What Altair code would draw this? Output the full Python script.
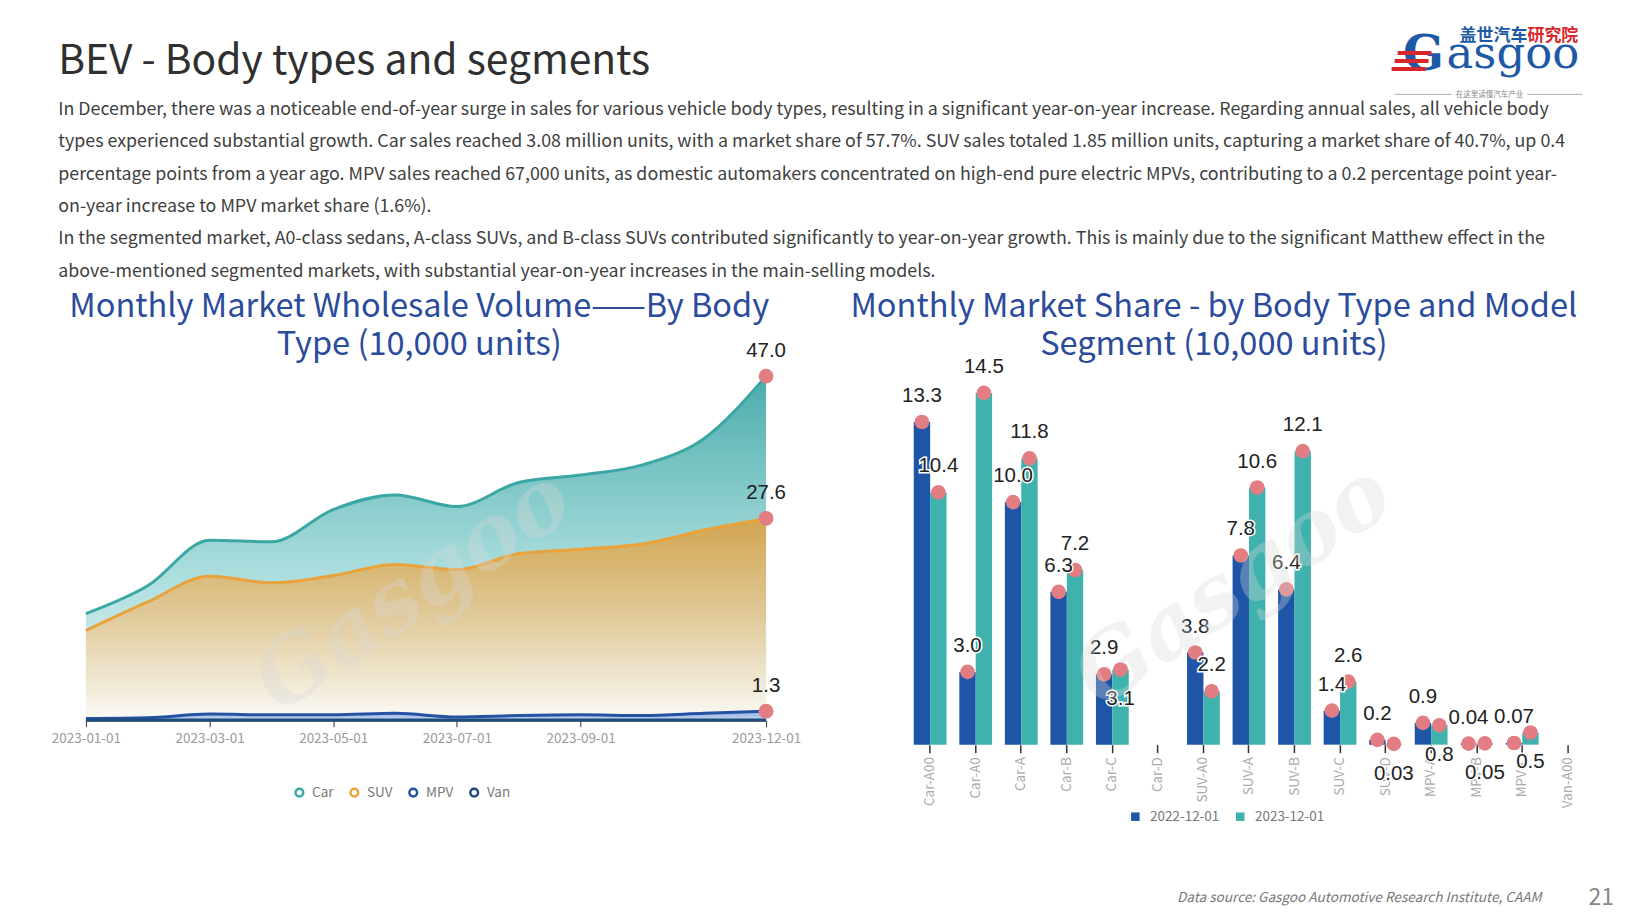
import altair as alt
import pandas as pd

# ---------------- data ----------------
months = ["2023-01-01", "2023-02-01", "2023-03-01", "2023-04-01", "2023-05-01", "2023-06-01",
          "2023-07-01", "2023-08-01", "2023-09-01", "2023-10-01", "2023-11-01", "2023-12-01"]
tick_months = ["2023-01-01", "2023-03-01", "2023-05-01", "2023-07-01", "2023-09-01", "2023-12-01"]
body_types = ["Car", "SUV", "MPV", "Van"]
car = [14.6, 18.4, 24.6, 24.4, 28.8, 30.8, 29.2, 32.5, 33.5, 34.9, 38.5, 47.0]
suv = [12.3, 16.2, 19.7, 18.8, 19.8, 21.3, 20.6, 22.8, 23.4, 24.1, 26.0, 27.6]
mpv = [0.3, 0.4, 0.9, 0.8, 0.8, 1.0, 0.5, 0.7, 0.8, 0.7, 1.0, 1.3]
van = [0.1, 0.1, 0.1, 0.1, 0.1, 0.1, 0.1, 0.1, 0.1, 0.1, 0.1, 0.1]

segments = ["Car-A00", "Car-A0", "Car-A", "Car-B", "Car-C", "Car-D", "SUV-A0", "SUV-A", "SUV-B",
            "SUV-C", "SUV-D", "MPV-A", "MPV-B", "MPV-C", "Van-A00"]
years = ["2022-12-01", "2023-12-01"]
seg_2022 = [13.3, 3.0, 10.0, 6.3, 2.9, None, 3.8, 7.8, 6.4, 1.4, 0.2, 0.9, 0.04, 0.07, None]
seg_2023 = [10.4, 14.5, 11.8, 7.2, 3.1, None, 2.2, 10.6, 12.1, 2.6, 0.03, 0.8, 0.05, 0.5, None]

title_text = "BEV - Body types and segments"
paragraph = [
    "In December, there was a noticeable end-of-year surge in sales for various vehicle body types, resulting in a significant year-on-year increase. Regarding annual sales, all vehicle body",
    "types experienced substantial growth. Car sales reached 3.08 million units, with a market share of 57.7%. SUV sales totaled 1.85 million units, capturing a market share of 40.7%, up 0.4",
    "percentage points from a year ago. MPV sales reached 67,000 units, as domestic automakers concentrated on high-end pure electric MPVs, contributing to a 0.2 percentage point year-",
    "on-year increase to MPV market share (1.6%).",
    "In the segmented market, A0-class sedans, A-class SUVs, and B-class SUVs contributed significantly to year-on-year growth. This is mainly due to the significant Matthew effect in the",
    "above-mentioned segmented markets, with substantial year-on-year increases in the main-selling models.",
]
left_title = ["Monthly Market Wholesale Volume\u2014\u2014By Body", "Type (10,000 units)"]
right_title = ["Monthly Market Share - by Body Type and Model", "Segment (10,000 units)"]
source_text = "Data source: Gasgoo Automotive Research Institute, CAAM"
page_no = "21"
logo_cn_blue = "\u76d6\u4e16\u6c7d\u8f66"
logo_cn_red = "\u7814\u7a76\u9662"
logo_caption = "\u5728\u8fd9\u91cc\u8bfb\u61c2\u6c7d\u8f66\u4ea7\u4e1a"
watermark = "Gasgoo"

# ---------------- style ----------------
FONT = "Noto Sans CJK SC"
NUM_FONT = "Liberation Sans, Arial, sans-serif"
NUM_SIZE = 20.5
BLUE_T = "#2b4b9b"
LOGO_BLUE = "#1d5aa6"
LOGO_RED = "#d8262d"
PINK = "#e27d83"
line_colors = ["#3ba7a4", "#e9a23c", "#2553a3", "#1c4b7c"]

W_L, H_L = 681, 367
W_R, H_R = 684, 391
OX_L, OY = 84.7, 352.6
OX_R = 907.2

one = pd.DataFrame({"k": [0]})


def deco_text(text, x, y, **kw):
    return alt.Chart(one).mark_text(**kw).encode(
        x=alt.value(x), y=alt.value(y), text=alt.value(text))


def deco_rule(x1, x2, y, color, width=1):
    return alt.Chart(one).mark_rule(color=color, strokeWidth=width).encode(
        x=alt.value(x1), x2=alt.value(x2), y=alt.value(y))


# ---------------- left chart ----------------
rows = []
for name, vals in zip(body_types, [car, suv, mpv, van]):
    for m, v in zip(months, vals):
        rows.append({"month": m, "type": name, "value": v})
df_left = pd.DataFrame(rows)
ends = pd.DataFrame([{"month": months[-1], "type": n, "value": v[-1], "label": f"{v[-1]:.1f}"}
                     for n, v in zip(body_types[:3], [car, suv, mpv])])

XL = alt.X("month:O", scale=alt.Scale(type="point", domain=months, padding=0),
           axis=alt.Axis(values=tick_months, title=None, labelAngle=0, labelFont=FONT,
                         labelFontSize=13.5, labelColor="#9a9a9a", tickColor="#333",
                         tickSize=6, domainColor="#333", labelPadding=5, grid=False))
YL = alt.Y("value:Q", scale=alt.Scale(domain=[0, 50], nice=False), axis=None)


def grad(stops):
    return alt.Gradient(gradient="linear",
                        stops=[alt.GradientStop(color=c, offset=o) for c, o in stops],
                        x1=1, x2=1, y1=0, y2=1)


fills = {
    "Car": grad([("#4cacac", 0), ("#a8dcdc", 0.55), ("#eef8f8", 1)]),
    "SUV": grad([("#d2a551", 0), ("#e0cb9b", 0.5), ("#fbfaf6", 1)]),
    "MPV": grad([("#8fb0e0", 0), ("#c9d8f0", 1)]),
    "Van": grad([("#2a5a8c", 0), ("#2a5a8c", 1)]),
}

areas = [alt.Chart(df_left).transform_filter(alt.datum.type == n)
         .mark_area(interpolate="monotone", fill=fills[n]).encode(x=XL, y=YL)
         for n in body_types]

lines = alt.Chart(df_left).mark_line(interpolate="monotone", strokeWidth=3).encode(
    x=XL, y=YL,
    color=alt.Color("type:N", scale=alt.Scale(domain=body_types, range=line_colors),
                    legend=alt.Legend(orient="none", legendX=207, legendY=432,
                                      direction="horizontal", title=None,
                                      symbolType="circle", symbolSize=60,
                                      symbolStrokeWidth=2.5, symbolFillColor="white",
                                      labelFont=FONT, labelFontSize=13.5, labelColor="#777",
                                      labelOffset=6, columnPadding=11, padding=0)))

end_pts = alt.Chart(ends).mark_circle(size=220, color=PINK, opacity=1).encode(x=XL, y=YL)
end_lbl = alt.Chart(ends).mark_text(dy=-19, baseline="alphabetic", font=NUM_FONT,
                                    fontSize=NUM_SIZE, color="#222").encode(
    x=XL, y=YL, text="label:N")

header = [
    deco_rule(-OX_L, -OX_L + 1, -OY, "white"),
    deco_text(title_text, 57 - OX_L, 71.7 - OY, font=FONT, fontSize=40.8, color="#303030",
              align="left", baseline="alphabetic"),
    deco_text(paragraph, 57 - OX_L, 113 - OY, font=FONT, fontSize=17.85, color="#404040",
              align="left", baseline="alphabetic", lineHeight=32.4),
    deco_text(left_title, 418.4 - OX_L, 315 - OY, font=FONT, fontSize=32.6, color=BLUE_T,
              align="center", baseline="alphabetic", lineHeight=38),
    # logo
    deco_text(logo_cn_blue, 1460 - OX_L, 39.5 - OY, font=FONT, fontSize=17,
              fontWeight="bold", color=LOGO_BLUE, align="left", baseline="alphabetic"),
    deco_text(logo_cn_red, 1528 - OX_L, 39.5 - OY, font=FONT, fontSize=17,
              fontWeight="bold", color=LOGO_RED, align="left", baseline="alphabetic"),
    deco_text("G", 1424 - OX_L, 68 - OY, font="DejaVu Serif", fontSize=48,
              fontWeight="bold", color=LOGO_BLUE, align="center", baseline="alphabetic"),
    deco_rule(1398 - OX_L, 1432 - OX_L, 51 - OY, LOGO_RED, 4),
    deco_rule(1395 - OX_L, 1429 - OX_L, 59 - OY, LOGO_RED, 4),
    deco_rule(1392 - OX_L, 1426 - OX_L, 67 - OY, LOGO_RED, 4),
    deco_text("asgoo", 1447 - OX_L, 66 - OY, font="DejaVu Serif", fontSize=45,
              color=LOGO_BLUE, align="left", baseline="alphabetic"),
    deco_text(logo_caption, 1490 - OX_L, 95.5 - OY,
              font=FONT, fontSize=7.5, color="#888", align="center", baseline="alphabetic"),
    deco_rule(1395 - OX_L, 1452 - OX_L, 92.5 - OY, "#aaa"),
    deco_rule(1528 - OX_L, 1583 - OX_L, 92.5 - OY, "#aaa"),
    deco_text(watermark, 413 - OX_L, 591 - OY, font="DejaVu Serif", fontSize=88,
              fontStyle="italic", fontWeight="bold", color="#d9d9d9", opacity=0.32,
              angle=326, align="center", baseline="middle"),
]

left = alt.layer(*areas, lines, end_pts, end_lbl, *header).properties(width=W_L, height=H_L)

# ---------------- right chart ----------------
rrows = []
for s, a, b in zip(segments, seg_2022, seg_2023):
    for yr, v in zip(years, [a, b]):
        if v is None:
            continue
        below = 1 if (yr == years[1] and abs(b - a) < 0.5) else 0
        rrows.append({"segment": s, "year": yr, "value": v,
                      "label": f"{v:.2f}" if v < 0.1 else f"{v:.1f}", "below": below})
df_right = pd.DataFrame(rrows)

XR = alt.X("segment:N", sort=segments,
           scale=alt.Scale(domain=segments, paddingInner=0.28, paddingOuter=0.14),
           axis=alt.Axis(title=None, labelAngle=-90, labelFont=FONT, labelFontSize=13.5,
                         labelColor="#aaa", tickColor="#333", tickSize=8, tickWidth=1.5,
                         domain=False, labelPadding=4, labelAlign="right",
                         labelBaseline="middle", grid=False))
XO = alt.XOffset("year:N", scale=alt.Scale(domain=years, paddingInner=0, paddingOuter=0))
YR = alt.Y("value:Q", scale=alt.Scale(domain=[0, 16.1], nice=False), axis=None)

bars = alt.Chart(df_right).mark_bar().encode(
    x=XR, xOffset=XO, y=YR,
    color=alt.Color("year:N", scale=alt.Scale(domain=years, range=["#1f55a7", "#3fb2ae"]),
                    legend=alt.Legend(orient="none", legendX=221.5, legendY=456,
                                      direction="horizontal", title=None, symbolType="square",
                                      symbolSize=72, labelFont=FONT, labelFontSize=13.5,
                                      labelColor="#777", labelOffset=8, columnPadding=14,
                                      padding=0)))
pts = alt.Chart(df_right).mark_circle(size=215, color=PINK, opacity=1).encode(
    x=XR, xOffset=XO, y=YR)


def seg_labels(flag, dy):
    base = alt.Chart(df_right).transform_filter(alt.datum.below == flag)
    halo = base.mark_text(dy=dy, baseline="alphabetic", font=NUM_FONT, fontSize=NUM_SIZE,
                          color="white", stroke="white", strokeWidth=3).encode(
        x=XR, xOffset=XO, y=YR, text="label:N")
    txt = base.mark_text(dy=dy, baseline="alphabetic", font=NUM_FONT, fontSize=NUM_SIZE,
                         color="#222").encode(x=XR, xOffset=XO, y=YR, text="label:N")
    return [halo, txt]


footer = [
    deco_text(right_title, 1214 - OX_R, 315 - OY, font=FONT, fontSize=32.6, color=BLUE_T,
              align="center", baseline="alphabetic", lineHeight=38),
    deco_text(source_text, 1542 - OX_R, 901 - OY, font=FONT, fontSize=13.6, fontStyle="italic",
              color="#777", align="right", baseline="alphabetic"),
    deco_text(page_no, 1602 - OX_R, 904 - OY, font=FONT, fontSize=23, color="#888",
              align="center", baseline="alphabetic"),
    deco_text(watermark, 1234 - OX_R, 586 - OY, font="DejaVu Serif", fontSize=88,
              fontStyle="italic", fontWeight="bold", color="#d9d9d9", opacity=0.32,
              angle=326, align="center", baseline="middle"),
    deco_rule(1640 - OX_R - 1, 1640 - OX_R, 922 - OY, "white"),
]

right = alt.layer(bars, pts, *seg_labels(0, -20), *seg_labels(1, 36), *footer).properties(
    width=W_R, height=H_R)

chart = alt.hconcat(left, right, spacing=OX_R - OX_L - W_L, bounds="flush").resolve_scale(
    color="independent").resolve_legend(color="independent").properties(
    padding=0, background="white"
).configure_view(stroke=None)

chart.save("out.html", embed_options={"renderer": "svg", "actions": False})
